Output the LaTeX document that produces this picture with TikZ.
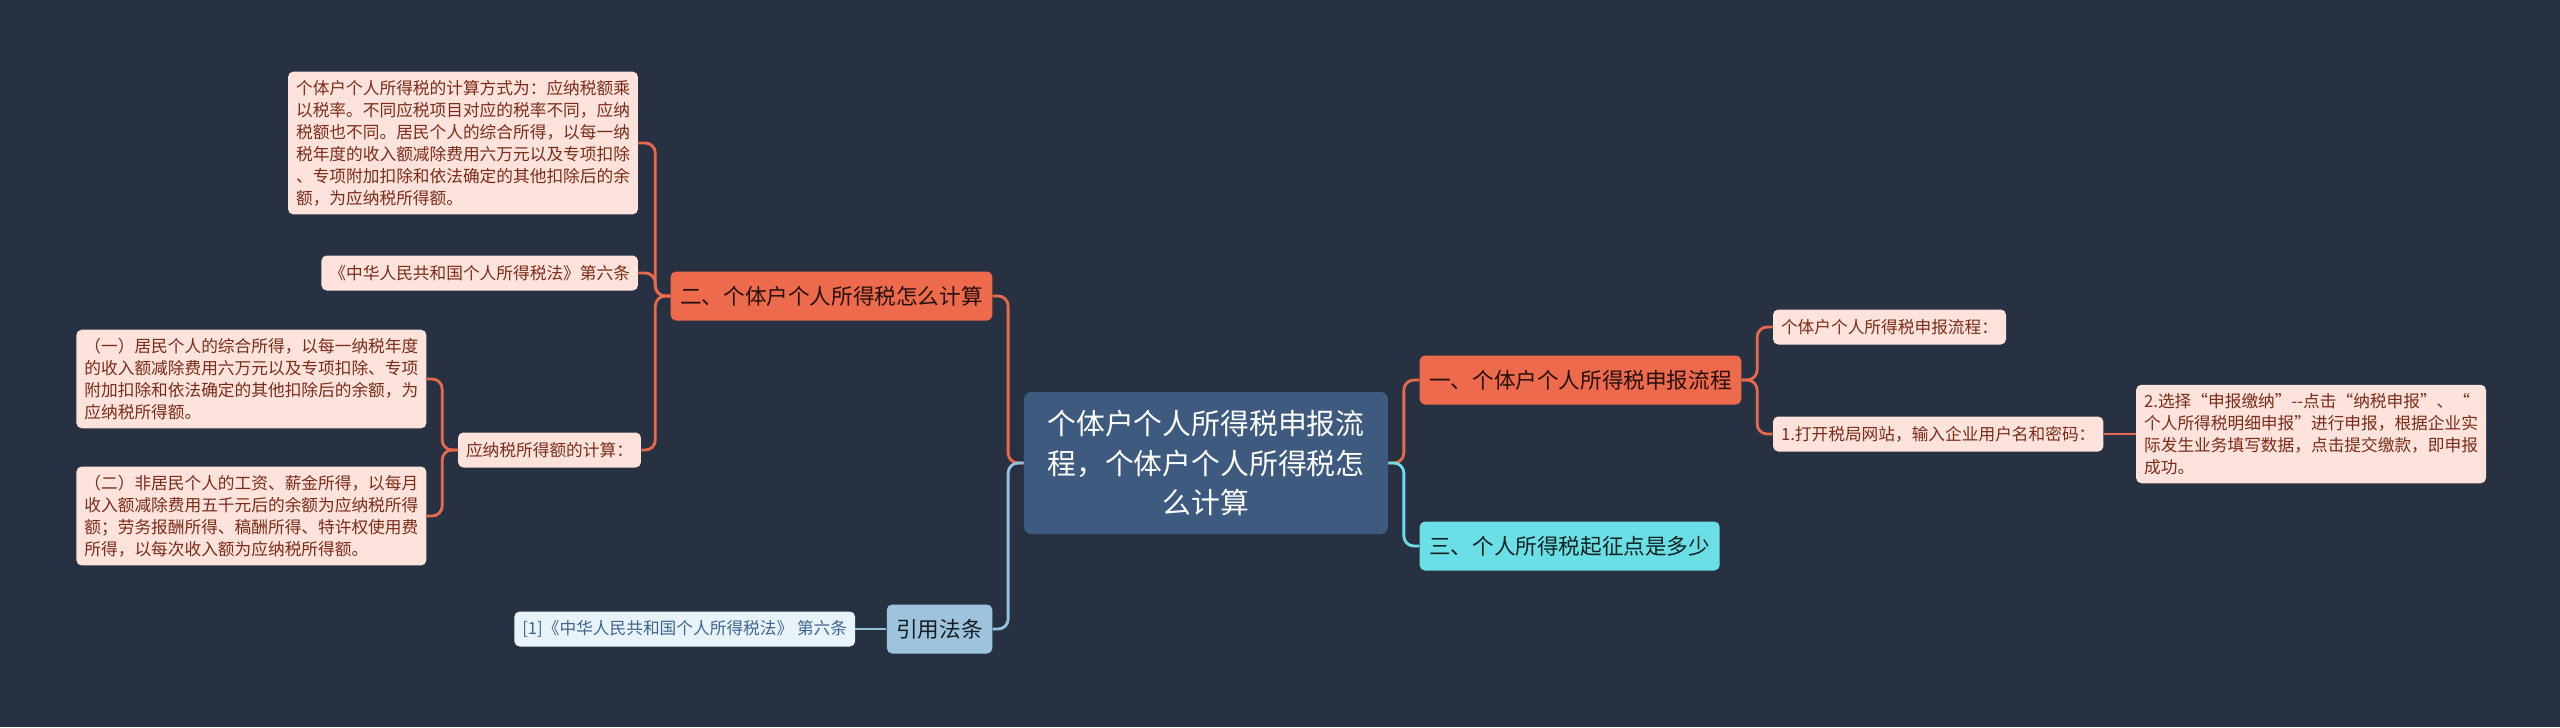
\documentclass[tikz,border=0pt]{standalone}
\usepackage{fontspec}
\usepackage{tikz}
\usetikzlibrary{positioning}
\newfontfamily\cjk{Noto Sans CJK SC}
\definecolor{bg}{HTML}{283142}
\definecolor{rootblue}{HTML}{3E5A7E}
\definecolor{orangefill}{HTML}{EE6A4C}
\definecolor{cyanfill}{HTML}{6ADFE6}
\definecolor{bluefill}{HTML}{9DC4DC}
\definecolor{pinkfill}{HTML}{FDE3DB}
\definecolor{pinktext}{HTML}{7A2C19}
\definecolor{lbluefill}{HTML}{E8F3FA}
\definecolor{lbluetext}{HTML}{3F6590}
\definecolor{lineorange}{HTML}{E8694B}
\definecolor{linecyan}{HTML}{6ADFE6}
\definecolor{lineblue}{HTML}{94C3DD}
\tikzstyle{rootbox} = [rectangle, rounded corners=4pt, fill=rootblue, text=white, font=\cjk\fontsize{16.4}{22.7}\selectfont, align=center, minimum width=7.28cm, minimum height=2.84cm]
\tikzstyle{orangebox} = [rectangle, rounded corners=3pt, fill=orangefill, text=black!85!orangefill, font=\cjk\fontsize{12.3}{15}\selectfont, inner xsep=0.19cm, minimum height=0.98cm]
\tikzstyle{cyanbox} = [orangebox, fill=cyanfill, text=black!85!cyanfill]
\tikzstyle{bluebox} = [orangebox, fill=bluefill, text=black!85!bluefill]
\tikzstyle{leaf} = [rectangle, rounded corners=3pt, fill=pinkfill, text=pinktext, font=\cjk\fontsize{9.5}{12.5}\selectfont, align=left, inner xsep=0.16cm, inner ysep=0.17cm, minimum height=0.7cm]
\tikzstyle{bleaf} = [leaf, fill=lbluefill, text=lbluetext]
\tikzstyle{oline} = [draw=lineorange, line width=1.6pt, rounded corners=0.2cm]
\tikzstyle{cline} = [oline, draw=linecyan]
\tikzstyle{bline} = [oline, draw=lineblue]

\begin{document}
\begin{tikzpicture}[node distance=0.62cm]
          \useasboundingbox[fill=bg] (-24.12,-5.28) rectangle (27.08,9.26);
          \node (root) [rootbox] at (0,0) {个体户个人所得税申报流\\程，个体户个人所得税怎\\么计算};
          \node (liucheng) [orangebox, right=of root, yshift=1.66cm] {一、个体户个人所得税申报流程};
          \node (qizheng) [cyanbox, right=of root, yshift=-1.66cm] {三、个人所得税起征点是多少};
          \node (jisuan) [orangebox, left=of root, yshift=3.34cm] {二、个体户个人所得税怎么计算};
          \node (fatiao) [bluebox, left=of root, yshift=-3.32cm] {引用法条};
          \node (lc1) [leaf, right=of liucheng, yshift=1.06cm] {个体户个人所得税申报流程：};
          \node (lc2) [leaf, right=of liucheng, yshift=-1.08cm] {1.打开税局网站，输入企业用户名和密码：};
          \node (lc3) [leaf, right=0.64cm of lc2] {2.选择“申报缴纳”--点击“纳税申报”、“\\个人所得税明细申报”进行申报，根据企业实\\际发生业务填写数据，点击提交缴款，即申报\\成功。};
          \node (js1) [leaf, left=0.64cm of jisuan, yshift=3.06cm] {个体户个人所得税的计算方式为：应纳税额乘\\以税率。不同应税项目对应的税率不同，应纳\\税额也不同。居民个人的综合所得，以每一纳\\税年度的收入额减除费用六万元以及专项扣除\\、专项附加扣除和依法确定的其他扣除后的余\\额，为应纳税所得额。};
          \node (js2) [leaf, left=0.64cm of jisuan, yshift=0.46cm] {《中华人民共和国个人所得税法》第六条};
          \node (js3) [leaf, left=0.58cm of jisuan, yshift=-3.08cm] {应纳税所得额的计算：};
          \node (js31) [leaf, left=of js3, yshift=1.42cm] {（一）居民个人的综合所得，以每一纳税年度\\的收入额减除费用六万元以及专项扣除、专项\\附加扣除和依法确定的其他扣除后的余额，为\\应纳税所得额。};
          \node (js32) [leaf, left=of js3, yshift=-1.32cm] {（二）非居民个人的工资、薪金所得，以每月\\收入额减除费用五千元后的余额为应纳税所得\\额；劳务报酬所得、稿酬所得、特许权使用费\\所得，以每次收入额为应纳税所得额。};
          \node (ft1) [bleaf, left=of fatiao] {[1]《中华人民共和国个人所得税法》 第六条};
          \draw [oline] (root.west) -- ++(-0.31,0) |- (jisuan.east);
          \draw [bline] (root.west) -- ++(-0.31,0) |- (fatiao.east);
          \draw [oline] (root.east) -- ++(0.31,0) |- (liucheng.west);
          \draw [cline] (root.east) -- ++(0.31,0) |- (qizheng.west);
          \draw [oline] (liucheng.east) -- ++(0.31,0) |- (lc1.west);
          \draw [oline] (liucheng.east) -- ++(0.31,0) |- (lc2.west);
          \draw [oline] (lc2.east) -- (lc3.west);
          \draw [oline] (jisuan.west) -- ++(-0.3,0) |- (js1.east);
          \draw [oline] (jisuan.west) -- ++(-0.3,0) |- (js2.east);
          \draw [oline] (jisuan.west) -- ++(-0.3,0) |- (js3.east);
          \draw [oline] (js3.west) -- ++(-0.31,0) |- (js31.east);
          \draw [oline] (js3.west) -- ++(-0.31,0) |- (js32.east);
          \draw [bline] (fatiao.west) -- (ft1.east);
        \end{tikzpicture}
\end{document}
